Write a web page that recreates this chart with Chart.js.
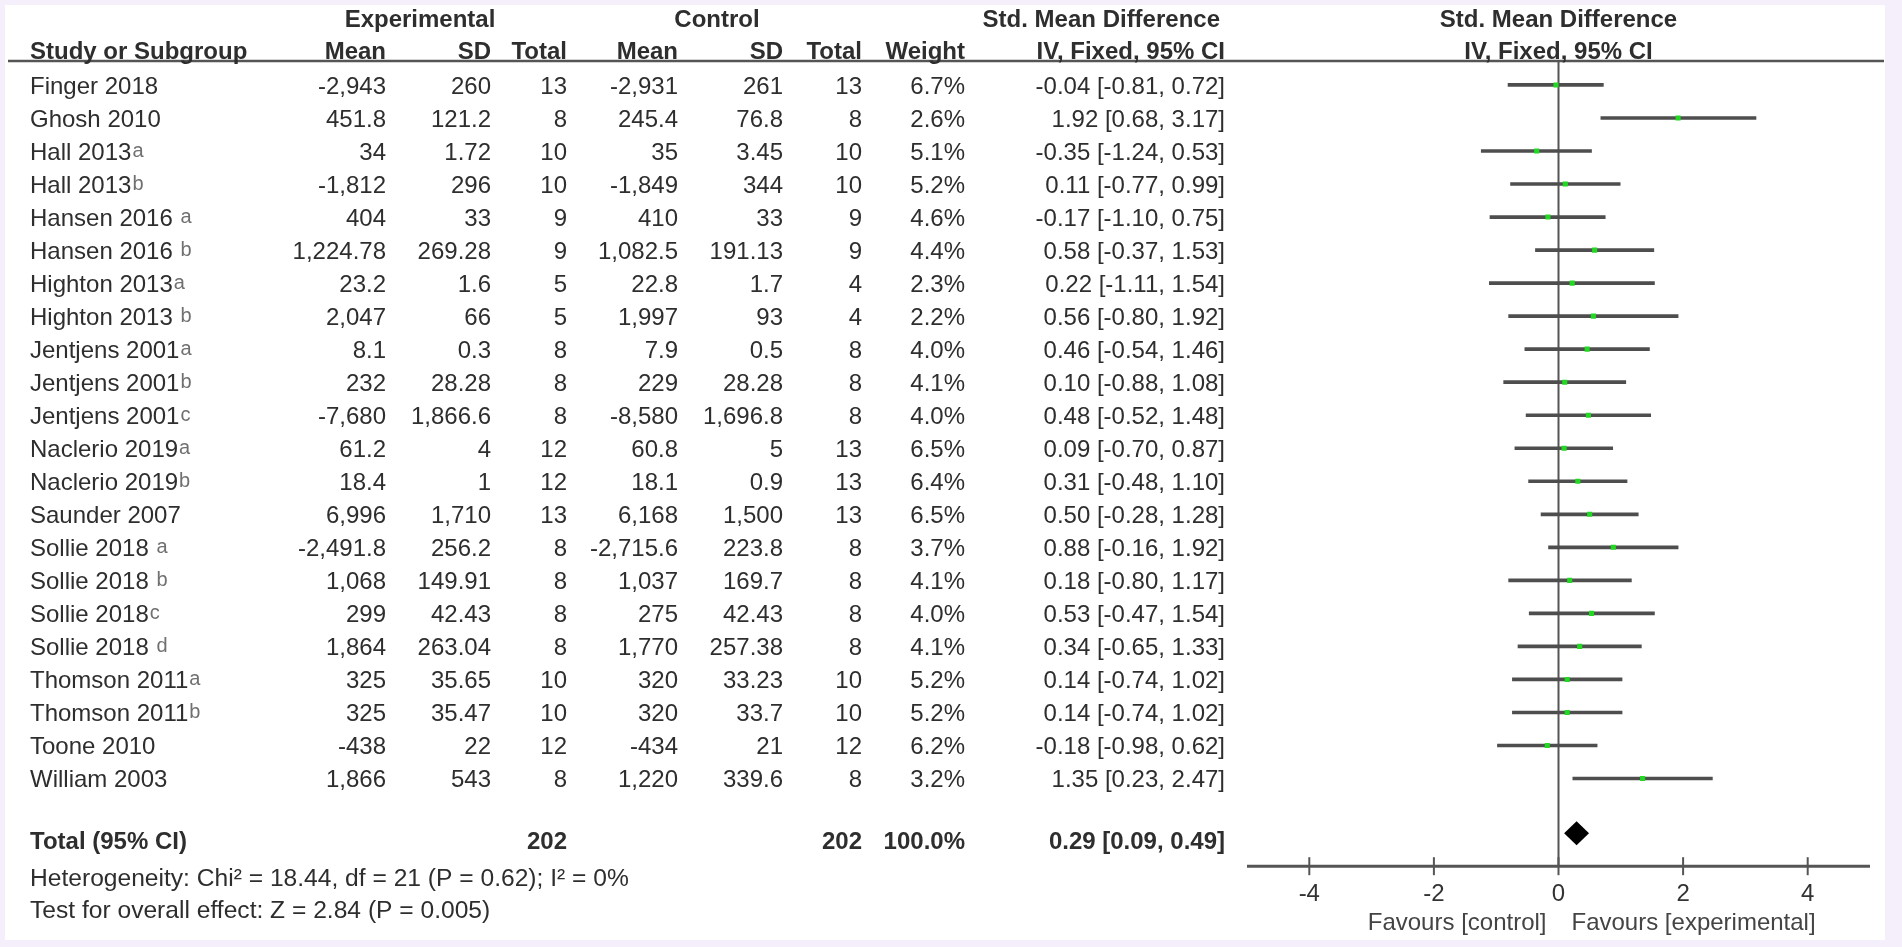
<!DOCTYPE html>
<html><head><meta charset="utf-8">
<script src="https://cdn.jsdelivr.net/npm/chart.js@4.4.1/dist/chart.umd.min.js"></script>
<style>
html,body{margin:0;padding:0;background:#f4effb;overflow:hidden}
#wrap{position:absolute;left:0;top:0;width:1902px;height:947px}
</style></head><body><div id="wrap"><canvas id="c"></canvas></div>
<script>
// ---------- data ----------
const studyNames = ['Finger 2018','Ghosh 2010','Hall 2013','Hall 2013','Hansen 2016 ','Hansen 2016 ','Highton 2013','Highton 2013 ','Jentjens 2001','Jentjens 2001','Jentjens 2001','Naclerio 2019','Naclerio 2019','Saunder 2007','Sollie 2018 ','Sollie 2018 ','Sollie 2018','Sollie 2018 ','Thomson 2011','Thomson 2011','Toone 2010','William 2003'];
const studySuffix = ['','','a','b','a','b','a','b','a','b','c','a','b','','a','b','c','d','a','b','',''];
const expMean = [-2943,451.8,34,-1812,404,1224.78,23.2,2047,8.1,232,-7680,61.2,18.4,6996,-2491.8,1068,299,1864,325,325,-438,1866];
const expSD = [260,121.2,1.72,296,33,269.28,1.6,66,0.3,28.28,1866.6,4,1,1710,256.2,149.91,42.43,263.04,35.65,35.47,22,543];
const expN = [13,8,10,10,9,9,5,5,8,8,8,12,12,13,8,8,8,8,10,10,12,8];
const ctlMean = [-2931,245.4,35,-1849,410,1082.5,22.8,1997,7.9,229,-8580,60.8,18.1,6168,-2715.6,1037,275,1770,320,320,-434,1220];
const ctlSD = [261,76.8,3.45,344,33,191.13,1.7,93,0.5,28.28,1696.8,5,0.9,1500,223.8,169.7,42.43,257.38,33.23,33.7,21,339.6];
const ctlN = [13,8,10,10,9,9,4,4,8,8,8,13,13,13,8,8,8,8,10,10,12,8];
const weights = [6.7,2.6,5.1,5.2,4.6,4.4,2.3,2.2,4.0,4.1,4.0,6.5,6.4,6.5,3.7,4.1,4.0,4.1,5.2,5.2,6.2,3.2];
const smd = [-0.04,1.92,-0.35,0.11,-0.17,0.58,0.22,0.56,0.46,0.10,0.48,0.09,0.31,0.50,0.88,0.18,0.53,0.34,0.14,0.14,-0.18,1.35];
const ciLow = [-0.81,0.68,-1.24,-0.77,-1.10,-0.37,-1.11,-0.80,-0.54,-0.88,-0.52,-0.70,-0.48,-0.28,-0.16,-0.80,-0.47,-0.65,-0.74,-0.74,-0.98,0.23];
const ciHigh = [0.72,3.17,0.53,0.99,0.75,1.53,1.54,1.92,1.46,1.08,1.48,0.87,1.10,1.28,1.92,1.17,1.54,1.33,1.02,1.02,0.62,2.47];
const totalExpN = 202;
const totalCtlN = 202;
const totalWeight = 100.0;
const totalSmd = [0.29, 0.09, 0.49]; // estimate, low, high
const xTicks = [-4,-2,0,2,4];
const headerCols = ['Mean','SD','Total','Mean','SD','Total','Weight'];
const heterogeneityText = 'Heterogeneity: Chi\u00B2 = 18.44, df = 21 (P = 0.62); I\u00B2 = 0%';
const overallText = 'Test for overall effect: Z = 2.84 (P = 0.005)';
const favoursLeft = 'Favours [control]';
const favoursRight = 'Favours [experimental]';

// ---------- layout / style ----------
const FONT = "'Liberation Sans', Arial, Helvetica, sans-serif";
const TEXT = '#2e2e2e';
const LINE = '#555555';
const COLS = [386,491,567,678,783,862,965];
const CI_RIGHT = 1225;
const NAME_LEFT = 30;
const TOTAL_POS = 22.87;
const fmt = new Intl.NumberFormat('en-US',{maximumFractionDigits:2});
const ci = (e,l,h) => e.toFixed(2)+' ['+l.toFixed(2)+', '+h.toFixed(2)+']';

Chart.defaults.font.family = FONT;

function txt(ctx, s, px, py, align, bold, size, color){
  size = size || 24;
  ctx.font = (bold ? 'bold ' : '') + size + 'px ' + FONT;
  ctx.textAlign = align;
  ctx.textBaseline = 'alphabetic';
  ctx.fillStyle = color || TEXT;
  ctx.fillText(s, px, py + size*0.36);
}

const forestPlugin = {
  id: 'forestTable',
  beforeDraw(chart){
    const ctx = chart.ctx;
    ctx.save();
    ctx.fillStyle = '#f4effb'; ctx.fillRect(0,0,chart.width,chart.height);
    ctx.fillStyle = '#ffffff'; ctx.fillRect(5,5,chart.width-22,chart.height-12);
    ctx.restore();
  },
  beforeDatasetsDraw(chart){
    const {ctx, chartArea:a, scales:{x}} = chart;
    ctx.save();
    ctx.strokeStyle = LINE;
    const x0 = x.getPixelForValue(0);
    ctx.lineWidth = 2;
    ctx.beginPath(); ctx.moveTo(x0, a.top); ctx.lineTo(x0, a.bottom); ctx.stroke();
    ctx.lineWidth = 2.5;
    ctx.beginPath(); ctx.moveTo(8, a.top); ctx.lineTo(chart.width-18, a.top); ctx.stroke();
    ctx.lineWidth = 3;
    ctx.beginPath(); ctx.moveTo(x.getPixelForValue(x.min), a.bottom); ctx.lineTo(x.getPixelForValue(x.max), a.bottom); ctx.stroke();
    ctx.lineWidth = 2;
    xTicks.forEach(v => {
      const px = x.getPixelForValue(v);
      ctx.beginPath(); ctx.moveTo(px, a.bottom-9); ctx.lineTo(px, a.bottom+9); ctx.stroke();
    });
    ctx.restore();
  },
  afterDatasetsDraw(chart){
    const {ctx, scales:{x,y}} = chart;
    const yc = y.getPixelForValue(TOTAL_POS) - 7;
    ctx.save();
    ctx.fillStyle = '#000';
    ctx.beginPath();
    ctx.moveTo(x.getPixelForValue(totalSmd[1]), yc);
    ctx.lineTo(x.getPixelForValue(totalSmd[0]), yc-12);
    ctx.lineTo(x.getPixelForValue(totalSmd[2]), yc);
    ctx.lineTo(x.getPixelForValue(totalSmd[0]), yc+12);
    ctx.closePath(); ctx.fill();
    ctx.restore();
  },
  afterDraw(chart){
    const {ctx, chartArea:a, scales:{x,y}} = chart;
    const x0 = x.getPixelForValue(0);
    ctx.save();
    const h1 = a.top - 43, h2 = a.top - 11;
    txt(ctx,'Experimental',420,h1,'center',true);
    txt(ctx,'Control',717,h1,'center',true);
    txt(ctx,'Std. Mean Difference',1220,h1,'right',true);
    txt(ctx,'Std. Mean Difference',x0,h1,'center',true);
    txt(ctx,'Study or Subgroup',NAME_LEFT,h2,'left',true);
    headerCols.forEach((t,k)=>txt(ctx,t,COLS[k],h2,'right',true));
    txt(ctx,'IV, Fixed, 95% CI',CI_RIGHT,h2,'right',true);
    txt(ctx,'IV, Fixed, 95% CI',x0,h2,'center',true);

    studyNames.forEach((name,i)=>{
      const py = y.getPixelForValue(i);
      txt(ctx,name,NAME_LEFT,py,'left',false);
      if (studySuffix[i]) {
        ctx.font = '24px ' + FONT;
        const w = ctx.measureText(name).width;
        ctx.font = '20px ' + FONT;
        ctx.textAlign = 'left';
        ctx.fillStyle = '#707070';
        ctx.fillText(studySuffix[i], NAME_LEFT + w + 1, py + 24*0.36 - 3);
      }
      const vals = [fmt.format(expMean[i]), fmt.format(expSD[i]), String(expN[i]),
                    fmt.format(ctlMean[i]), fmt.format(ctlSD[i]), String(ctlN[i]),
                    weights[i].toFixed(1)+'%'];
      vals.forEach((v,k)=>txt(ctx,v,COLS[k],py,'right',false));
      txt(ctx,ci(smd[i],ciLow[i],ciHigh[i]),CI_RIGHT,py,'right',false);
    });

    const ty = y.getPixelForValue(TOTAL_POS);
    txt(ctx,'Total (95% CI)',NAME_LEFT,ty,'left',true);
    txt(ctx,String(totalExpN),COLS[2],ty,'right',true);
    txt(ctx,String(totalCtlN),COLS[5],ty,'right',true);
    txt(ctx,totalWeight.toFixed(1)+'%',COLS[6],ty,'right',true);
    txt(ctx,ci(totalSmd[0],totalSmd[1],totalSmd[2]),CI_RIGHT,ty,'right',true);
    txt(ctx,heterogeneityText,NAME_LEFT,ty+37,'left',false,24.6);
    txt(ctx,overallText,NAME_LEFT,ty+69,'left',false,24.6);

    txt(ctx,favoursLeft,x0-12,a.bottom+55,'right',false,24,'#444');
    txt(ctx,favoursRight,x0+13,a.bottom+55,'left',false,24,'#444');
    ctx.restore();
  }
};

new Chart(document.getElementById('c'), {
  type: 'scatter',
  data: {
    datasets: [
      {
        type: 'bar',
        indexAxis: 'y',
        data: smd.map((v,i)=>({x:[ciLow[i], ciHigh[i]], y:i})),
        backgroundColor: '#4e4e4e',
        borderWidth: 0,
        barThickness: 3,
        order: 2
      },
      {
        type: 'scatter',
        data: smd.map((v,i)=>({x:v, y:i})),
        pointStyle: 'rect',
        pointRadius: 3.6,
        pointHoverRadius: 3.6,
        backgroundColor: '#22d822',
        borderWidth: 0,
        order: 1
      }
    ]
  },
  options: {
    responsive: true,
    maintainAspectRatio: false,
    animation: false,
    events: [],
    layout: { padding: { left: 1247, right: 32, top: 61, bottom: 24 } },
    plugins: { legend: { display: false }, tooltip: { enabled: false }, title: { display: false } },
    scales: {
      x: {
        type: 'linear', min: -5, max: 5, offset: false,
        afterBuildTicks: s => { s.ticks = xTicks.map(v => ({ value: v })); },
        grid: { display: false, drawTicks: false, offset: false },
        border: { display: false },
        ticks: { font: { size: 24, family: FONT }, color: '#333', padding: 14, callback: v => String(v) }
      },
      y: {
        type: 'linear', display: false, reverse: true, min: -0.725, max: 23.655,
        offset: false,
        grid: { display: false, offset: false }
      }
    }
  },
  plugins: [forestPlugin]
});
</script></body></html>
